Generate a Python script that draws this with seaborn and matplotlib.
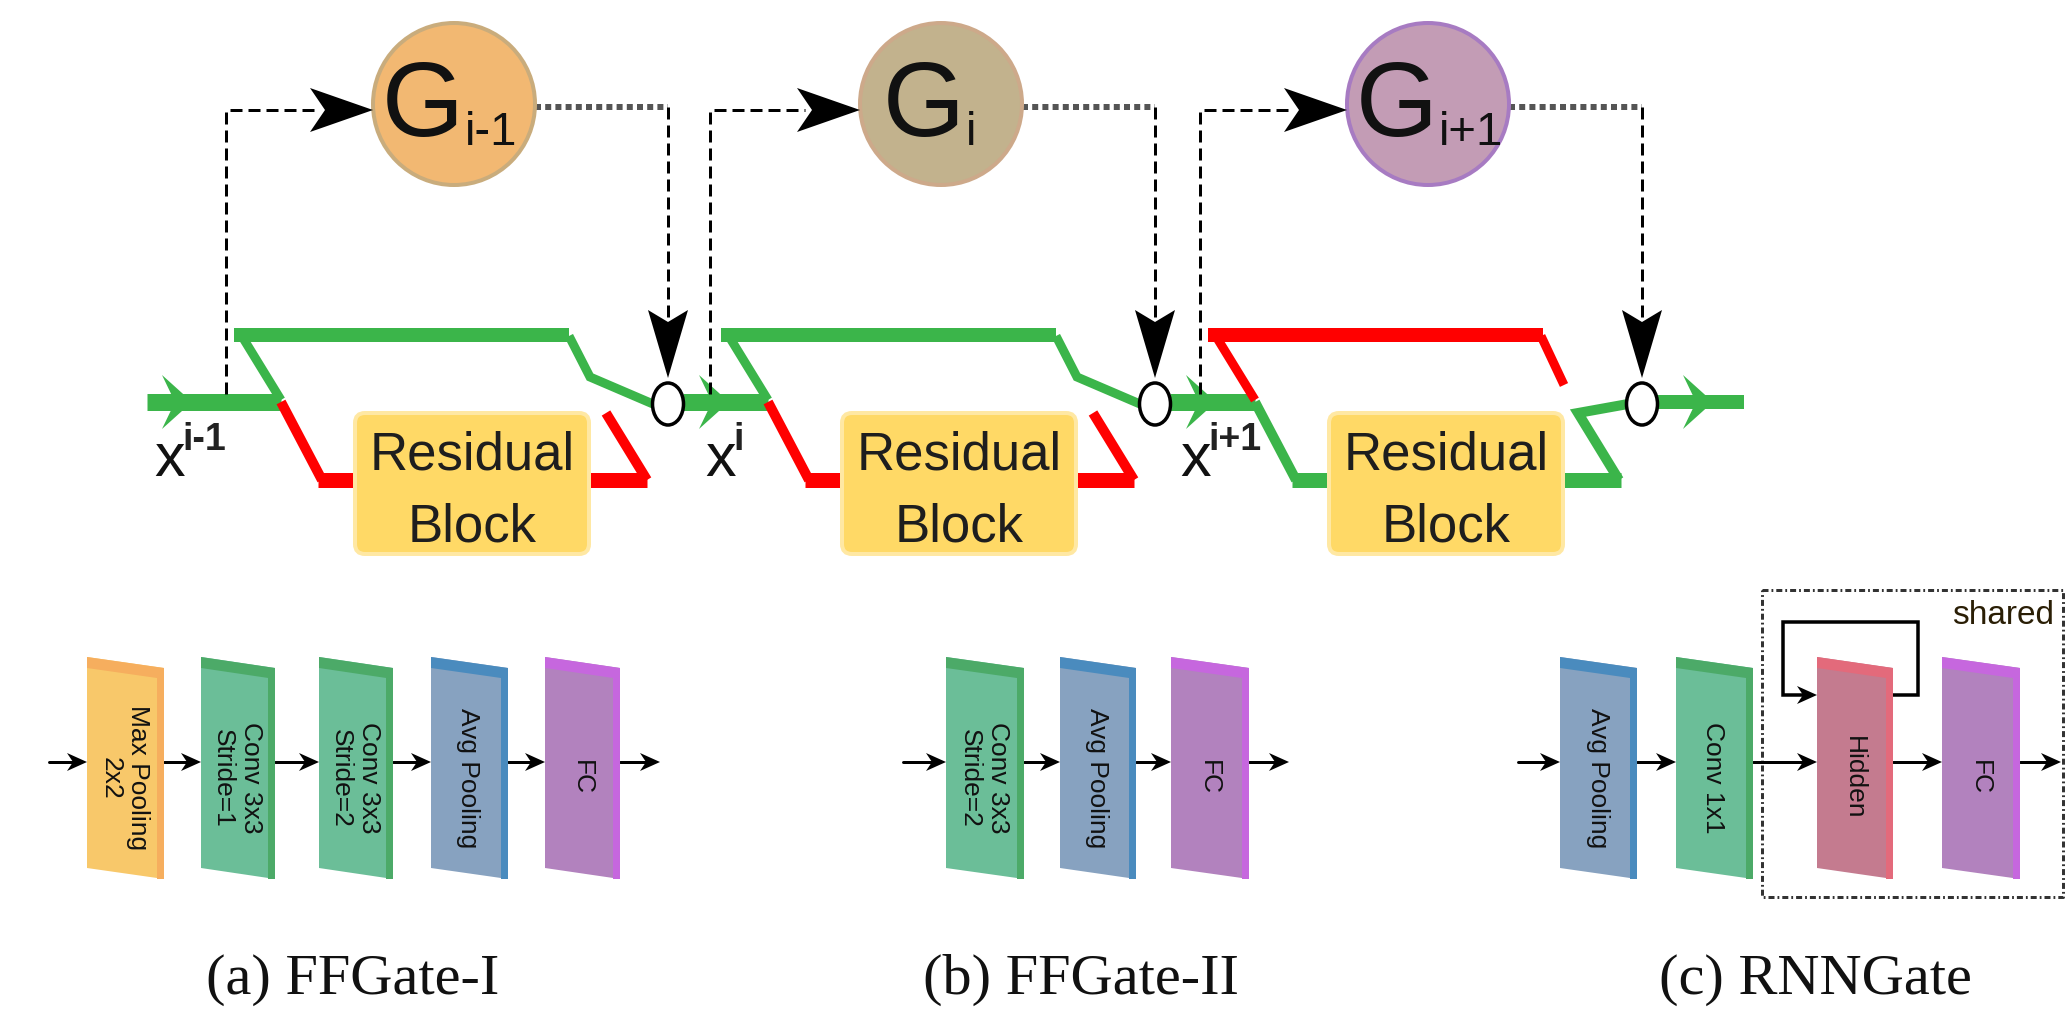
import numpy as np
import pandas as pd
import seaborn as sns
import matplotlib
matplotlib.use("Agg")
import matplotlib.pyplot as plt
from matplotlib.patches import Polygon, Ellipse, FancyBboxPatch

# ---------------- content ----------------
gate_letter = "G"
gate_subscripts = ["i-1", "i", "i+1"]
input_superscripts = ["i-1", "i", "i+1"]
skip_taken = [True, True, False]          # green = path taken
block_lines = ["Residual", "Block"]
captions = ["(a) FFGate-I", "(b) FFGate-II", "(c) RNNGate"]
ffgate1_layers = ["Max Pooling\n2x2", "Conv 3x3\nStride=1", "Conv 3x3\nStride=2", "Avg Pooling", "FC"]
ffgate1_kinds = ["maxpool", "conv", "conv", "avg", "fc"]
ffgate2_layers = ["Conv 3x3\nStride=2", "Avg Pooling", "FC"]
ffgate2_kinds = ["conv", "avg", "fc"]
rnngate_layers = ["Avg Pooling", "Conv 1x1", "Hidden", "FC"]
rnngate_kinds = ["avg", "conv", "hidden", "fc"]
shared_label = "shared"

# ---------------- styles ----------------
gate_fills = ["#F2B872", "#C2B28D", "#C39CB5"]
gate_edges = ["#C9AC7C", "#CDA98A", "#A77BC2"]
layer_face = {"maxpool": "#F8C86A", "conv": "#6BBE98", "avg": "#87A2C0",
              "fc": "#B282BE", "hidden": "#C47B8F"}
layer_edge = {"maxpool": "#F6AE5E", "conv": "#4CAA68", "avg": "#4A8BBE",
              "fc": "#C667DE", "hidden": "#E36A7B"}
GREEN = "#3BB54A"
RED = "#FF0000"
PT = 0.72  # px -> pt at dpi 100

sns.set_theme(style="white")
plt.rcParams["font.family"] = ["Liberation Sans", "DejaVu Sans"]

fig = plt.figure(figsize=(20.69, 10.16), dpi=100)
ax = fig.add_axes([0, 0, 1, 1])
ax.set_xlim(0, 2069)
ax.set_ylim(1016, 0)
ax.axis("off")


def stealth(tip, direction, L, W, notch, color, z=6):
    tx, ty = tip
    dx, dy = direction
    n = np.hypot(dx, dy)
    dx, dy = dx / n, dy / n
    px, py = -dy, dx
    pts = [(tx, ty),
           (tx - L * dx + W * px, ty - L * dy + W * py),
           (tx - (L - notch) * dx, ty - (L - notch) * dy),
           (tx - L * dx - W * px, ty - L * dy - W * py)]
    ax.add_patch(Polygon(pts, closed=True, fc=color, ec="none", zorder=z))


def seg(xs, ys, color, wpx, z=2, **kw):
    ax.plot(xs, ys, color=color, lw=wpx * PT, solid_capstyle="butt",
            solid_joinstyle="miter", zorder=z, **kw)


# ---------------- top: gated residual units ----------------
OFF = [0, 487, 974]
MAIN_Y = 402
arrow_tips = [192, 729, 1216]
x_label_left = [154, 705, 1180]
line_start = 147

for k, off in enumerate(OFF):
    top_col = GREEN if skip_taken[k] else RED
    low_col = RED if skip_taken[k] else GREEN
    split = 281 + off
    # main line into unit
    seg([line_start, split], [MAIN_Y, MAIN_Y], GREEN, 17)
    stealth((arrow_tips[k], MAIN_Y), (1, 0), 30, 27, 13, GREEN, z=3)
    # skip path (top)
    seg([234 + off, 569 + off], [335, 335], top_col, 14)
    seg([243 + off, split], [338, 400], top_col, 9)
    if skip_taken[k]:
        seg([569 + off, 590 + off, 653 + off], [336, 377, 404], top_col, 9)
    else:
        seg([567 + off, 590 + off], [336, 385], top_col, 9)
    # block path (bottom)
    seg([split, 322 + off], [402, 480], low_col, 10)
    seg([318 + off, 360 + off], [480, 480], low_col, 15)
    seg([585 + off, 647 + off], [480, 480], low_col, 15)
    if skip_taken[k]:
        seg([647 + off, 606 + off], [480, 413], low_col, 10)
    else:
        seg([645 + off, 604 + off, 654 + off], [480, 413, 404], low_col, 10)
    # residual block
    ax.add_patch(FancyBboxPatch((355 + off, 413), 234, 141,
                                boxstyle="round,pad=0,rounding_size=10",
                                fc="#FFD966", ec="#FFE8A3", lw=4 * PT, zorder=4))
    ax.text(472 + off, 469, block_lines[0], ha="center", va="baseline",
            fontsize=38, color="#1E1E1E", zorder=5)
    ax.text(472 + off, 541, block_lines[1], ha="center", va="baseline",
            fontsize=38, color="#1E1E1E", zorder=5)
    # input label
    xl = x_label_left[k]
    ax.text(xl, 476, "x", ha="left", va="baseline", fontsize=44, color="#111111")
    ax.text(xl + 28, 450, input_superscripts[k], ha="left", va="baseline",
            fontsize=27, fontweight="bold", color="#222222")
    # gate circle
    cx, cy, r = 454 + off, 104, 81
    ax.add_patch(Ellipse((cx, cy), 2 * r, 2 * r, fc=gate_fills[k], ec=gate_edges[k],
                         lw=4 * PT, zorder=4))
    anchor = cx + 24 - 7 * (len(gate_subscripts[k]) - 1)
    ax.text(anchor, 136, gate_letter, ha="right", va="baseline", fontsize=76,
            color="#111111", zorder=5)
    ax.text(anchor + 1, 145, gate_subscripts[k], ha="left", va="baseline",
            fontsize=34, color="#111111", zorder=5)
    # dashed input to gate
    dx0 = 226 + off if k != 1 else 710
    ax.plot([dx0, dx0, cx - r - 55], [MAIN_Y - 8, 110, 110], color="black",
            lw=3 * PT, ls=(0, (4, 2)), zorder=3)
    stealth((cx - r, 110), (1, 0), 63, 22, 15, "black")
    # dotted gate output, dashed down to junction
    jx = 668 + off
    ax.plot([cx + r, jx], [107, 107], color="#555555", lw=6 * PT,
            ls=(0, (1, 0.7)), solid_capstyle="butt", zorder=3)
    ax.plot([jx, jx], [107, 318], color="black", lw=3 * PT, ls=(0, (4, 2)), zorder=3)
    stealth((jx, 378), (0, 1), 68, 20, 12, "black")
    ax.add_patch(Ellipse((jx, 404), 31, 42, fc="white", ec="black", lw=3.5 * PT, zorder=7))
    line_start = jx + 15

# output of last unit
seg([line_start, 1744], [MAIN_Y, MAIN_Y], GREEN, 14)
stealth((1713, MAIN_Y), (1, 0), 30, 27, 13, GREEN, z=3)

# ---------------- bottom: gate architectures ----------------
YT, SL, YB, TT, SW = 657, 11, 868, 11, 7
ARROW_Y = 762


def slab(x0, x1, kind, label):
    face, edge = layer_face[kind], layer_edge[kind]
    ax.add_patch(Polygon([(x0, YT), (x1, YT + SL), (x1, YB + SL), (x0, YB)],
                         closed=True, fc=face, ec="none", zorder=4))
    ax.add_patch(Polygon([(x0, YT), (x1, YT + SL), (x1, YT + SL + TT), (x0, YT + TT)],
                         closed=True, fc=edge, ec="none", zorder=5))
    ax.add_patch(Polygon([(x1 - SW, YT + SL), (x1, YT + SL), (x1, YB + SL), (x1 - SW, YB + SL)],
                         closed=True, fc=edge, ec="none", zorder=5))
    ax.text((x0 + x1) / 2 - 1, 778, label, rotation=-90, ha="center", va="center",
            fontsize=19, color="#111111", linespacing=1.2, zorder=6)


def small_arrow(xs, xe):
    ax.plot([xs, xe - 12], [ARROW_Y, ARROW_Y], color="black", lw=3 * PT, zorder=3)
    stealth((xe, ARROW_Y), (1, 0), 20, 9, 6, "black")


panels = [
    (ffgate1_layers, ffgate1_kinds, [(87, 164), (201, 275), (319, 393), (431, 508), (545, 620)], 49, 660),
    (ffgate2_layers, ffgate2_kinds, [(946, 1024), (1060, 1136), (1171, 1249)], 903, 1289),
    (rnngate_layers, rnngate_kinds, [(1560, 1637), (1676, 1753), (1817, 1893), (1942, 2020)], 1518, 2061),
]
caption_x = [353, 1081, 1815]

for p, (labels, kinds, spans, xs, xe) in enumerate(panels):
    prev = xs
    for lab, kind, (x0, x1) in zip(labels, kinds, spans):
        small_arrow(prev, x0)
        slab(x0, x1, kind, lab)
        prev = x1
    small_arrow(prev, xe)
    ax.text(caption_x[p], 980, captions[p], ha="center", va="center",
            fontsize=42, family=["Liberation Serif", "DejaVu Serif"], color="#111111")

# recurrent loop + shared box in RNNGate
ax.plot([1893, 1918, 1918, 1783, 1783, 1805], [695, 695, 622, 622, 695, 695],
        color="black", lw=3.5 * PT, solid_joinstyle="miter", zorder=3)
stealth((1817, 695), (1, 0), 20, 9, 6, "black")
ax.plot([1762, 2063, 2063, 1762, 1762], [590, 590, 897, 897, 590], color="#333333",
        lw=3 * PT, ls=(0, (2, 1, 0.6, 1)), zorder=2)
ax.text(2054, 624, shared_label, ha="right", va="baseline", fontsize=24, color="#2A1E05")

fig.savefig("out.png", dpi=100)
